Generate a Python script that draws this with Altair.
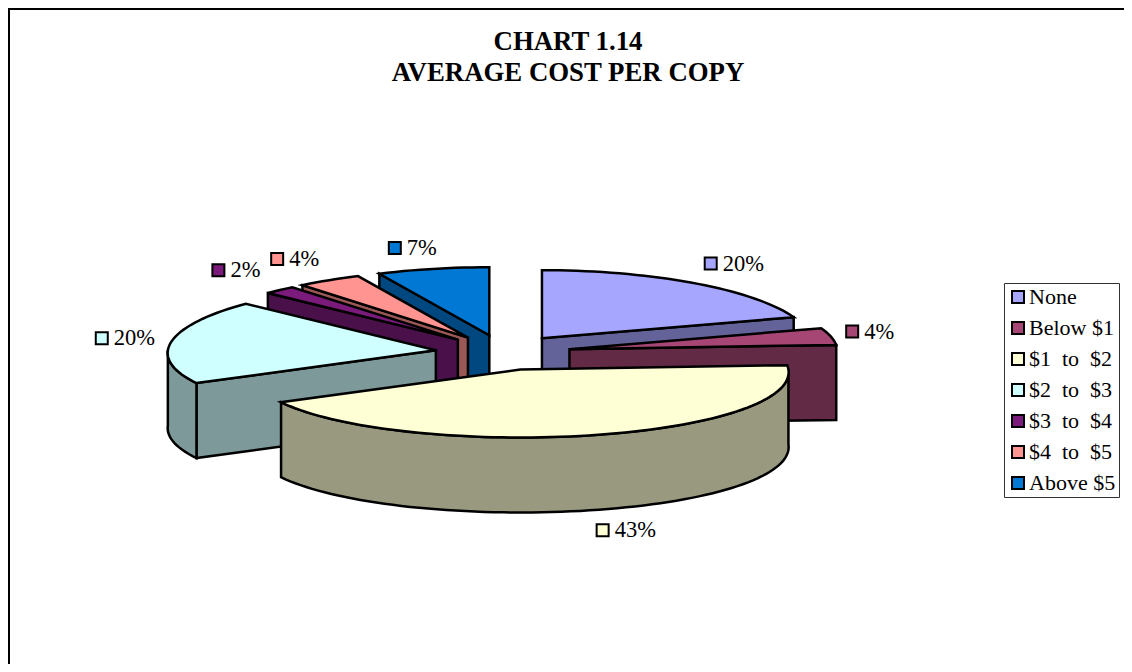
import math
import altair as alt

categories = ["None", "Below $1", "$1\u00a0\u00a0to\u00a0\u00a0$2", "$2\u00a0\u00a0to\u00a0\u00a0$3",
              "$3\u00a0\u00a0to\u00a0\u00a0$4", "$4\u00a0\u00a0to\u00a0\u00a0$5", "Above $5"]
shares = [20, 4, 43, 20, 2, 4, 7]
top_colors = ["#A6A6FF", "#A64674", "#FFFFD6", "#D0FFFF", "#7A1A7A", "#FF9490", "#0078D4"]
side_colors = ["#63639A", "#632A45", "#999980", "#7D9999", "#491049", "#995856", "#00487F"]
title_lines = ["CHART 1.14", "AVERAGE COST PER COPY"]

# Layout of the tilted pie
W, H = 1116, 656
CX, CY, RX, RY, DEPTH, EXPLODE, PERSPECTIVE = 493, 344.5, 268, 68, 75, 0.26, 0.04
EXPLODE_X = [0.26, 0.26, 0.26, 0.245, 0.235, 0.23, 0.2]
LABEL_REACH = [1.23, 1.15, 1.30, 1.17, 1.30, 1.28, 1.30]
LABEL_DROP = [0, 0, DEPTH, 0, 0, 0, 0]
LABEL_NUDGE = [(-1, -7), (4, -3), (9, 1), (1, -2), (23, -5), (17, -5), (5.5, -1)]
PAINT_ORDER = [0, 6, 5, 4, 3, 1, 2]
FONT = "Liberation Serif"


def pt(a, cx, cy, r=1.0, drop=0.0, persp=0.0):
    t = math.radians(a)
    return [cx + r * RX * math.sin(t) * (1 - persp * math.cos(t)), cy - r * RY * math.cos(t) + drop]


def arc(a0, a1, cx, cy, drop=0.0):
    n = max(2, int(abs(a1 - a0) / 2) + 1)
    return [pt(a0 + (a1 - a0) * i / n, cx, cy, 1.0, drop, PERSPECTIVE) for i in range(n + 1)]


def feature(key, ring):
    return {"type": "Feature",
            "properties": {"key": key},
            "geometry": {"type": "Polygon", "coordinates": [ring + [ring[0]]]}}


features, labels = [], []
total = sum(shares)
starts, a = [], 0.0
for s in shares:
    starts.append(a)
    a += 360.0 * s / total

for i in PAINT_ORDER:
    a0 = starts[i]
    a1 = a0 + 360.0 * shares[i] / total
    mid = (a0 + a1) / 2
    ax = pt(mid, CX, CY, EXPLODE_X[i])[0]
    ay = pt(mid, CX, CY, EXPLODE)[1]
    side_key = "side " + categories[i]
    apex = [ax, ay]
    # radial wall that faces the viewer
    for edge in (a0, a1):
        visible = (edge == a0 and math.sin(math.radians(a0)) < -1e-9) or \
                  (edge == a1 and math.sin(math.radians(a1)) > 1e-9)
        if visible:
            p = pt(edge, ax, ay, 1.0, 0.0, PERSPECTIVE)
            features.append(feature(side_key, [apex, p, [p[0], p[1] + DEPTH], [ax, ay + DEPTH]]))
    # curved outer wall on the front half
    lo, hi = max(a0, 90.0), min(a1, 270.0)
    if lo < hi:
        upper = arc(lo, hi, ax, ay)
        lower = arc(hi, lo, ax, ay, DEPTH)
        features.append(feature(side_key, upper + lower))
    # top face
    features.append(feature(categories[i], [apex] + arc(a0, a1, ax, ay)))
    lx, ly = pt(mid, ax, ay, LABEL_REACH[i], LABEL_DROP[i])
    lx += LABEL_NUDGE[i][0]
    ly += LABEL_NUDGE[i][1]
    labels.append({"key": categories[i], "lon": lx - 24, "lat": ly,
                   "tlon": lx - 12, "text": f"{shares[i]}%"})

domain = categories + ["side " + c for c in categories]
palette = top_colors + side_colors
color_scale = alt.Scale(domain=domain, range=palette)
projection = alt.Projection(type="identity", scale=1, translate=[0, 0])

pie = alt.Chart(alt.Data(values=features)).mark_geoshape(
    stroke="black", strokeWidth=2.5, strokeJoin="miter"
).encode(
    color=alt.Color("properties.key:N", scale=color_scale, legend=alt.Legend(
        title=None, values=categories, orient="none", legendX=996, legendY=275,
        symbolType="square", symbolSize=144, symbolStrokeColor="black", symbolStrokeWidth=2,
        labelFont=FONT, labelFontSize=22, labelColor="black", labelLimit=200, labelOffset=0,
        rowPadding=9, padding=3, fillColor="white", strokeColor="#333333",
    ))
)

marker = alt.Chart(alt.Data(values=labels)).mark_point(
    shape="square", filled=True, size=144, stroke="black", strokeWidth=2, opacity=1
).encode(
    longitude="lon:Q", latitude="lat:Q",
    color=alt.Color("key:N", scale=color_scale, legend=None),
)

text = alt.Chart(alt.Data(values=labels)).mark_text(
    font=FONT, fontSize=22.5, color="black", align="left", baseline="middle"
).encode(longitude="tlon:Q", latitude="lat:Q", text="text:N")

frame_top = alt.Chart().mark_rule(color="black", strokeWidth=2).encode(
    x=alt.value(0), x2=alt.value(W), y=alt.value(1))
frame_left = alt.Chart().mark_rule(color="black", strokeWidth=2).encode(
    x=alt.value(1), y=alt.value(0), y2=alt.value(H))

chart = alt.layer(frame_top, frame_left, pie, marker, text).properties(
    width=W, height=H, padding=0, autosize=alt.AutoSizeParams(type="none"),
    projection=projection,
    title=alt.TitleParams(text=title_lines, font=FONT, fontSize=26.8, fontWeight="bold", color="black",
                          anchor="middle", baseline="top", lineHeight=31, dy=84, dx=2),
).configure_view(stroke=None)

chart.save("out.html", embed_options={"renderer": "svg", "actions": False})
